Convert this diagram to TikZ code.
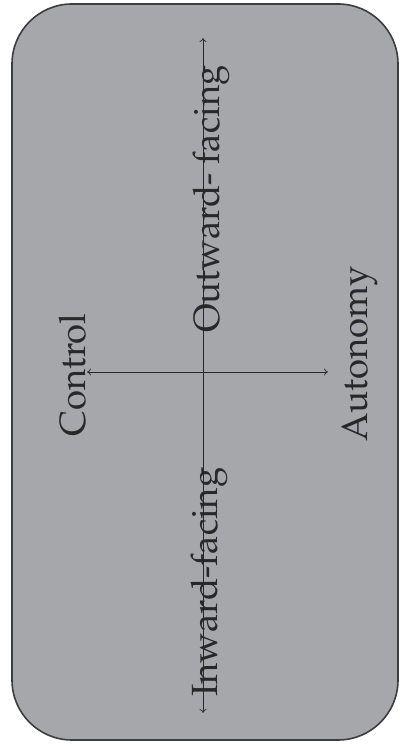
\documentclass[tikz,border=0pt]{standalone}
\usepackage[T1]{fontenc}
\usepackage{mathpazo}
\usetikzlibrary{arrows.meta}
\definecolor{panel}{RGB}{166,167,171}
\definecolor{ink}{RGB}{40,40,40}
\tikzset{
  panelbox/.style={draw=ink!90, line width=1.6pt, fill=panel, rounded corners=60pt},
  axis/.style={draw=ink, line width=0.7pt, {To[length=4pt,width=7pt]}-{To[length=4pt,width=7pt]}},
  lbl/.style={rotate=90, anchor=base west, inner sep=0pt, text=ink, font=\fontsize{36.5}{40}\selectfont}
}
\begin{document}
\begin{tikzpicture}[x=1pt,y=1pt]
  \useasboundingbox (0,0) rectangle (399,747);
  % background panel
  \path[panelbox] (12,7) rectangle (398,743);
  % axis end points
  \coordinate (top) at (203,709);
  \coordinate (bottom) at (203,34);
  \coordinate (left) at (87,375);
  \coordinate (right) at (328,375);
  % axes
  \draw[axis] (bottom) -- (top);
  \draw[axis] (left) -- (right);
  % labels
  \node[lbl] (outward) at (219,414) {Outward- facing};
  \node[lbl] (inward) at (217,50) {Inward-facing};
  \node[lbl] (control) at (85,310) {Control};
  \node[lbl] (autonomy) at (367,305) {Autonomy};
\end{tikzpicture}
\end{document}
